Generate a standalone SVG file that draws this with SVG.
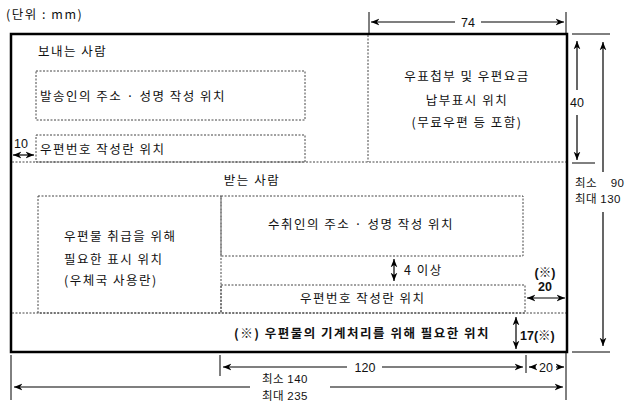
<svg xmlns="http://www.w3.org/2000/svg" width="643" height="416" viewBox="0 0 643 416">
<defs>
<marker id="a" viewBox="0 0 10 10" refX="10" refY="5" markerWidth="7" markerHeight="7" orient="auto-start-reverse"><path d="M0,1 L10,5 L0,9 L3,5 z" fill="#000"/></marker>
<style>
text{font-family:"Liberation Sans","Noto Sans CJK KR",sans-serif;font-size:12.5px;fill:#111}
.k{font-family:"Noto Sans CJK KR","Liberation Sans",sans-serif;font-size:12.5px;letter-spacing:1.5px}
.s{font-size:11.5px;letter-spacing:0.5px}
.b{font-weight:bold}
.d{fill:none;stroke:#444;stroke-width:1;stroke-dasharray:2,1.5}
.l{stroke:#000;stroke-width:1;fill:none}
.ar{stroke:#000;stroke-width:1.2;fill:none;marker-start:url(#a);marker-end:url(#a)}
.a1{stroke:#000;stroke-width:1.2;fill:none;marker-end:url(#a)}
</style>
</defs>
<rect width="643" height="416" fill="#fff"/>
<text x="6" y="19" class="k">(단위 : mm)</text>
<g id="envelope">
<rect x="11" y="34" width="556" height="318" fill="none" stroke="#000" stroke-width="2.5"/>
<line class="d" x1="368" y1="35" x2="368" y2="162"/>
<line class="d" x1="12" y1="162" x2="566" y2="162"/>
<line class="d" x1="12" y1="313" x2="566" y2="313"/>
</g>
<g id="sender"><text x="38" y="56" class="k">보내는 사람</text></g>
<g id="sender-addr"><rect class="d" x="36" y="71" width="269" height="49"/><text x="40" y="101" class="k">발송인의 주소 · 성명 작성 위치</text></g>
<g id="sender-zip"><rect class="d" x="36" y="135" width="269" height="27"/><text x="40" y="154" class="k">우편번호 작성란 위치</text></g>
<g id="stamp"><text x="467" y="81" text-anchor="middle" class="k">우표첩부 및 우편요금</text><text x="467" y="105" text-anchor="middle" class="k">납부표시 위치</text><text x="467" y="127" text-anchor="middle" class="k">(무료우편 등 포함)</text></g>
<g id="receiver"><text x="252" y="185" text-anchor="middle" class="k">받는 사람</text></g>
<g id="post-use"><rect class="d" x="38" y="196" width="183" height="117"/><text x="64" y="241" class="k">우편물 취급을 위해</text><text x="64" y="264" class="k">필요한 표시 위치</text><text x="64" y="285" class="k">(우체국 사용란)</text></g>
<g id="recv-addr"><rect class="d" x="221" y="196" width="302" height="60"/><text x="268" y="229" class="k">수취인의 주소 · 성명 작성 위치</text></g>
<g id="recv-zip"><rect class="d" x="221" y="285" width="304" height="28"/><text x="300" y="303" class="k">우편번호 작성란 위치</text></g>
<g id="machine"><text x="362" y="338" text-anchor="middle" class="k b">(※) 우편물의 기계처리를 위해 필요한 위치</text></g>
<g id="connectors">
<line class="l" x1="369" y1="12" x2="369" y2="34"/><line class="l" x1="566" y1="12" x2="566" y2="34"/>
<line class="a1" x1="455" y1="22" x2="371" y2="22"/><line class="a1" x1="481" y1="22" x2="564" y2="22"/>
<text x="468" y="27" text-anchor="middle">74</text>
<line class="ar" x1="13" y1="155" x2="34" y2="155"/><text x="14" y="148" font-size="12">10</text>
<line class="l" x1="572" y1="34" x2="610" y2="34"/><line class="l" x1="572" y1="163" x2="595" y2="163"/><line class="l" x1="572" y1="352" x2="610" y2="352"/>
<line class="a1" x1="577" y1="90" x2="577" y2="41"/><line class="a1" x1="577" y1="115" x2="577" y2="160"/><text x="570" y="107">40</text>
<line class="a1" x1="603" y1="172" x2="603" y2="42"/><line class="a1" x1="603" y1="212" x2="603" y2="346"/>
<text x="575" y="187" class="k s" xml:space="preserve">최소  <tspan font-family="Liberation Sans">  90</tspan></text>
<text x="575" y="203" class="k s" xml:space="preserve">최대 <tspan font-family="Liberation Sans">130</tspan></text>
<line class="ar" x1="394" y1="259" x2="394" y2="281"/><text x="404" y="275" class="k">4 이상</text>
<text x="545" y="277" text-anchor="middle" class="b">(※)</text><text x="545" y="291" text-anchor="middle" class="b">20</text>
<line class="ar" x1="527" y1="298" x2="565" y2="298"/>
<line class="ar" x1="516" y1="317" x2="516" y2="349"/><text x="520" y="340" class="b">17(※)</text>
<line class="l" x1="220" y1="355" x2="220" y2="376"/><line class="l" x1="526" y1="355" x2="526" y2="373"/><line class="l" x1="566" y1="352" x2="566" y2="400"/><line class="l" x1="11" y1="355" x2="11" y2="400"/>
<line class="a1" x1="347" y1="367" x2="223" y2="367"/><line class="a1" x1="382" y1="367" x2="523" y2="367"/><text x="365" y="372" text-anchor="middle">120</text>
<line class="a1" x1="536" y1="367" x2="529" y2="367"/><line class="a1" x1="556" y1="367" x2="564" y2="367"/><text x="546" y="372" text-anchor="middle">20</text>
<line class="a1" x1="250" y1="387" x2="14" y2="387"/><line class="a1" x1="330" y1="387" x2="563" y2="387"/>
<text x="262" y="383" class="k s">최소 <tspan font-family="Liberation Sans">140</tspan></text>
<text x="262" y="400" class="k s">최대 <tspan font-family="Liberation Sans">235</tspan></text>
</g>
</svg>
